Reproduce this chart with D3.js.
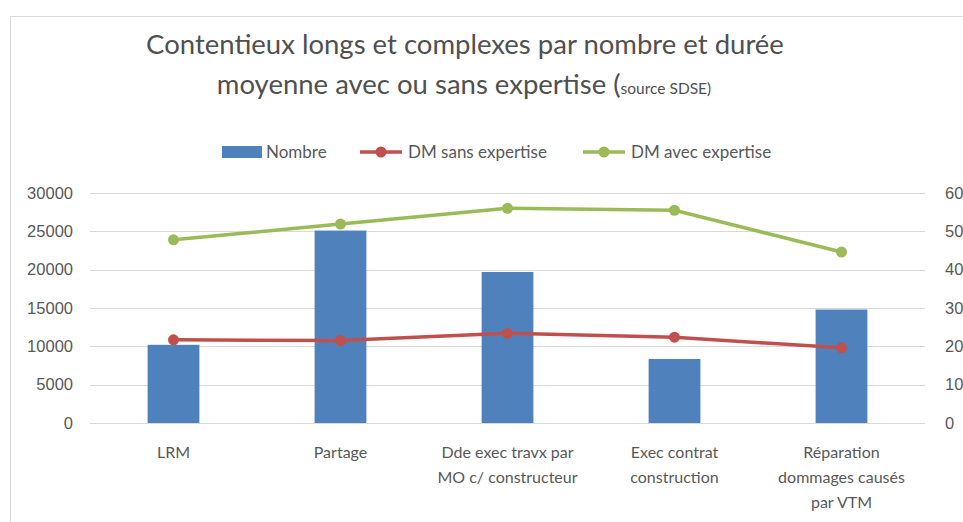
<!DOCTYPE html>
<html>
<head>
  <script src="https://d3js.org/d3.v7.min.js"></script>
  <style>
    body { margin: 0; background: #fff; }
    svg { font-family: Lato, "Open Sans", sans-serif; }
    .tick text { fill: #595959; }
  </style>
</head>
<body>
  <div id="chart"></div>
  <script>
    var width = 963, height = 522;
    var margin = {top: 193, left: 90, right: 38, bottom: 99};

    // data
    var categories = ["LRM", "Partage", "Dde exec travx par MO c/ constructeur", "Exec contrat construction", "Réparation dommages causés par VTM"];
    var categoryLines = [["LRM"], ["Partage"], ["Dde exec travx par", "MO c/ constructeur"], ["Exec contrat", "construction"], ["Réparation", "dommages causés", "par VTM"]];
    var nombre = [10200, 25100, 19700, 8350, 14800];
    var dmSans = [21.7, 21.5, 23.4, 22.4, 19.6];
    var dmAvec = [47.8, 51.9, 56, 55.5, 44.6];
    var leftTicks = [0, 5000, 10000, 15000, 20000, 25000, 30000];
    var rightTicks = [0, 10, 20, 30, 40, 50, 60];

    var svg = d3.select("#chart").append("svg")
      .attr("width", width)
      .attr("height", height);

    // chart frame
    svg.append("rect")
      .attr("x", 10.5).attr("y", 16.5)
      .attr("width", 1000).attr("height", 600)
      .attr("fill", "none")
      .attr("stroke", "#d9d9d9");

    var x = d3.scaleBand()
      .domain(categories)
      .range([margin.left, width - margin.right]);

    var yLeft = d3.scaleLinear()
      .domain([0, 30000])
      .range([height - margin.bottom, margin.top]);

    var yRight = d3.scaleLinear()
      .domain([0, 60])
      .range([height - margin.bottom, margin.top]);

    // gridlines
    svg.append("g")
      .selectAll("line")
      .data(leftTicks)
      .enter()
      .append("line")
        .attr("x1", margin.left)
        .attr("x2", width - margin.right)
        .attr("y1", function(d) { return Math.round(yLeft(d)) + 0.5; })
        .attr("y2", function(d) { return Math.round(yLeft(d)) + 0.5; })
        .attr("stroke", "#d9d9d9")
        .attr("stroke-width", 1);

    // axes
    var leftAxis = svg.append("g")
      .attr("transform", "translate(" + (margin.left - 17) + ",0)")
      .call(d3.axisLeft(yLeft).tickValues(leftTicks).tickFormat(d3.format("d")).tickSize(0).tickPadding(0));
    leftAxis.select(".domain").remove();
    leftAxis.selectAll("text").style("font-size", "16.5px");

    var rightAxis = svg.append("g")
      .attr("transform", "translate(" + (width - margin.right + 20) + ",0)")
      .call(d3.axisRight(yRight).tickValues(rightTicks).tickFormat(d3.format("d")).tickSize(0).tickPadding(0));
    rightAxis.select(".domain").remove();
    rightAxis.selectAll("text").style("font-size", "16.5px");

    // bars
    var barW = x.bandwidth() * 0.31;
    svg.selectAll(".bar")
      .data(nombre)
      .enter()
      .append("rect")
        .attr("class", "bar")
        .attr("x", function(d, i) { return x(categories[i]) + x.bandwidth() / 2 - barW / 2; })
        .attr("y", function(d) { return yLeft(d); })
        .attr("width", barW)
        .attr("height", function(d) { return yLeft(0) - yLeft(d); })
        .attr("fill", "#4f81bd");

    // lines
    function drawLine(values, color) {
      var line = d3.line()
        .x(function(d, i) { return x(categories[i]) + x.bandwidth() / 2; })
        .y(function(d) { return yRight(d); });
      svg.append("path")
        .datum(values)
        .attr("d", line)
        .attr("fill", "none")
        .attr("stroke", color)
        .attr("stroke-width", 3.5)
        .attr("stroke-linejoin", "round");
      svg.append("g").selectAll("circle")
        .data(values)
        .enter()
        .append("circle")
          .attr("cx", function(d, i) { return x(categories[i]) + x.bandwidth() / 2; })
          .attr("cy", function(d) { return yRight(d); })
          .attr("r", 5.5)
          .attr("fill", color);
    }
    drawLine(dmSans, "#c0504d");
    drawLine(dmAvec, "#9bbb59");

    // category labels
    var xLabels = svg.append("g").selectAll("text")
      .data(categoryLines)
      .enter()
      .append("text")
        .attr("text-anchor", "middle")
        .attr("fill", "#595959")
        .style("font-size", "16px")
        .attr("x", function(d, i) { return x(categories[i]) + x.bandwidth() / 2; })
        .attr("y", 458);
    xLabels.selectAll("tspan")
      .data(function(d) { return d; })
      .enter()
      .append("tspan")
        .attr("x", function() { return d3.select(this.parentNode).attr("x"); })
        .attr("dy", function(d, i) { return i === 0 ? 0 : 25; })
        .text(function(d) { return d; });

    // title
    svg.append("text")
      .attr("x", 465).attr("y", 54)
      .attr("text-anchor", "middle")
      .attr("fill", "#505050")
      .style("font-size", "27.5px")
      .text("Contentieux longs et complexes par nombre et durée");
    var t2 = svg.append("text")
      .attr("x", 464).attr("y", 94)
      .attr("text-anchor", "middle")
      .attr("fill", "#505050")
      .style("font-size", "27.5px");
    t2.append("tspan").text("moyenne avec ou sans expertise (");
    t2.append("tspan").style("font-size", "15.5px").text("source SDSE)");

    // legend
    var legendItems = [
      {name: "Nombre", color: "#4f81bd", type: "bar", x: 222},
      {name: "DM sans expertise", color: "#c0504d", type: "line", x: 360},
      {name: "DM avec expertise", color: "#9bbb59", type: "line", x: 583}
    ];
    var legend = svg.append("g").selectAll("g")
      .data(legendItems)
      .enter()
      .append("g")
        .attr("transform", function(d) { return "translate(" + d.x + ",152)"; });
    legend.filter(function(d) { return d.type === "bar"; })
      .append("rect")
        .attr("x", 0).attr("y", -6)
        .attr("width", 40).attr("height", 12)
        .attr("fill", function(d) { return d.color; });
    legend.filter(function(d) { return d.type === "line"; })
      .append("line")
        .attr("x1", 0).attr("x2", 42)
        .attr("stroke", function(d) { return d.color; })
        .attr("stroke-width", 3.5);
    legend.filter(function(d) { return d.type === "line"; })
      .append("circle")
        .attr("cx", 21).attr("r", 5.5)
        .attr("fill", function(d) { return d.color; });
    legend.append("text")
      .attr("x", function(d) { return d.type === "bar" ? 44 : 48; })
      .attr("y", 6)
      .attr("fill", "#595959")
      .style("font-size", "17px")
      .text(function(d) { return d.name; });
  </script>
</body>
</html>
